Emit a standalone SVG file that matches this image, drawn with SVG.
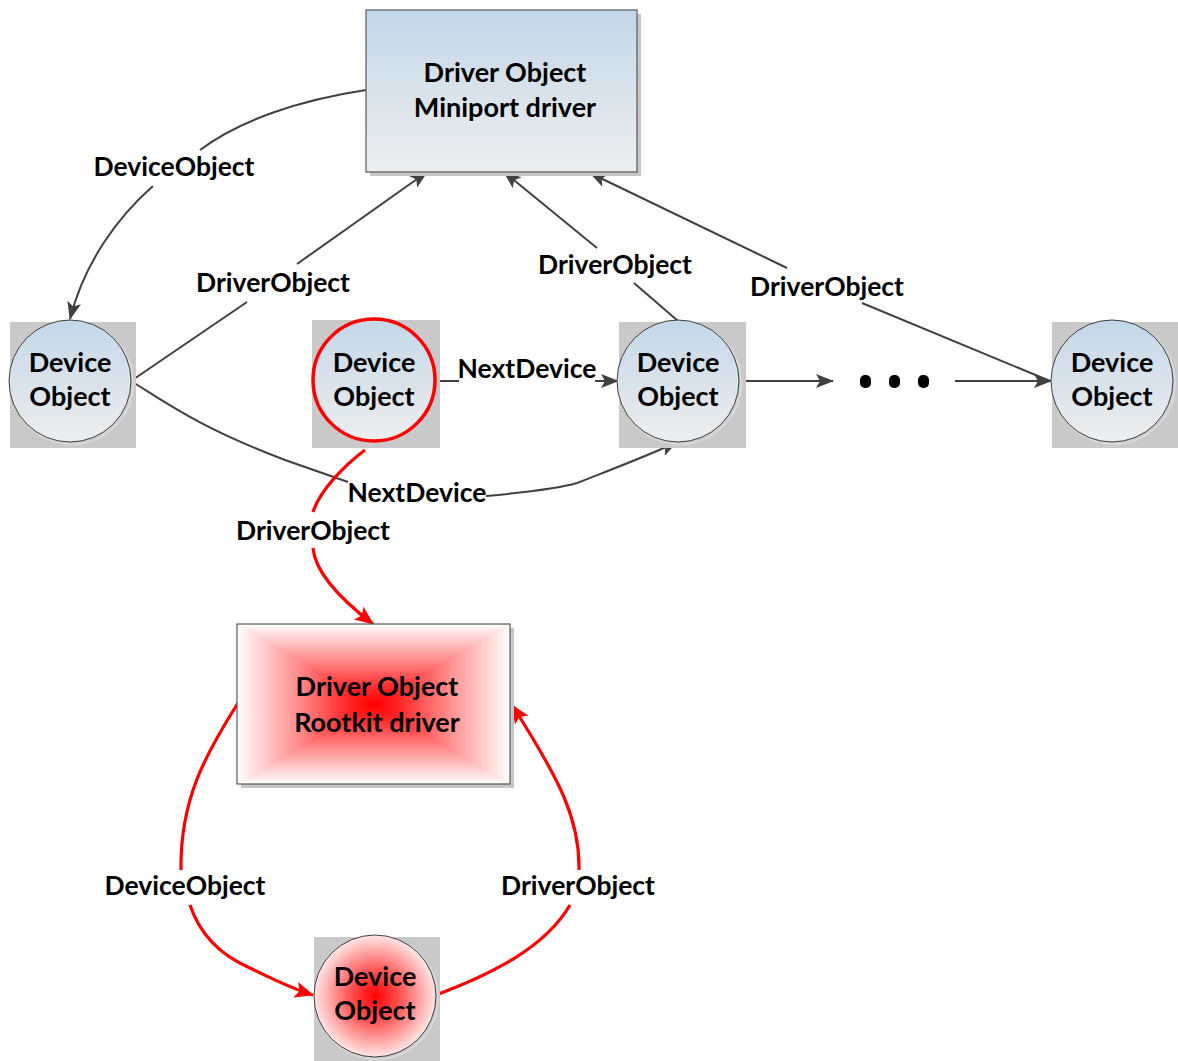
<svg xmlns="http://www.w3.org/2000/svg" width="1178" height="1061" viewBox="0 0 1178 1061">
  <defs>
    <linearGradient id="blueFill" x1="0" y1="0" x2="0" y2="1">
      <stop offset="0" stop-color="#c3d7e8"/>
      <stop offset="1" stop-color="#eeeeee"/>
    </linearGradient>
    <!-- rectangular "path" gradient built from four edge-to-centre wedges -->
    <linearGradient id="redTop" gradientUnits="userSpaceOnUse" x1="0" y1="624" x2="0" y2="704">
      <stop offset="0" stop-color="#ffffff"/>
      <stop offset="0.45" stop-color="#ff8c8c"/>
      <stop offset="0.8" stop-color="#ff2a2a"/>
      <stop offset="1" stop-color="#ff0000"/>
    </linearGradient>
    <linearGradient id="redBottom" gradientUnits="userSpaceOnUse" x1="0" y1="784" x2="0" y2="704">
      <stop offset="0" stop-color="#ffffff"/>
      <stop offset="0.45" stop-color="#ff8c8c"/>
      <stop offset="0.8" stop-color="#ff2a2a"/>
      <stop offset="1" stop-color="#ff0000"/>
    </linearGradient>
    <linearGradient id="redLeft" gradientUnits="userSpaceOnUse" x1="237" y1="0" x2="373.5" y2="0">
      <stop offset="0" stop-color="#ffffff"/>
      <stop offset="0.45" stop-color="#ff8c8c"/>
      <stop offset="0.8" stop-color="#ff2a2a"/>
      <stop offset="1" stop-color="#ff0000"/>
    </linearGradient>
    <linearGradient id="redRight" gradientUnits="userSpaceOnUse" x1="510" y1="0" x2="373.5" y2="0">
      <stop offset="0" stop-color="#ffffff"/>
      <stop offset="0.45" stop-color="#ff8c8c"/>
      <stop offset="0.8" stop-color="#ff2a2a"/>
      <stop offset="1" stop-color="#ff0000"/>
    </linearGradient>
    <radialGradient id="redBall" cx="0.5" cy="0.5" r="0.55">
      <stop offset="0" stop-color="#ff0000"/>
      <stop offset="0.4" stop-color="#ff5a5a"/>
      <stop offset="1" stop-color="#ffffff"/>
    </radialGradient>
    <clipPath id="rootkitClip">
      <rect x="237" y="624" width="273" height="160"/>
    </clipPath>
    <marker id="arrowGray" markerUnits="userSpaceOnUse" markerWidth="20" markerHeight="16" refX="17" refY="7" orient="auto">
      <path d="M0,0 L18,7 L0,14 L4,7 Z" fill="#404040"/>
    </marker>
    <marker id="arrowRed" markerUnits="userSpaceOnUse" markerWidth="22" markerHeight="18" refX="18" refY="8" orient="auto">
      <path d="M0,0 L19,8 L0,16 L4,8 Z" fill="#ff0000"/>
    </marker>
  </defs>
  <style>
    .bg { fill: #ffffff; }
    .tile { fill: #c9c9c9; }
    .shadow { fill: #c6c6c6; }
    .box { stroke: #595959; stroke-width: 1.2; }
    .disc { stroke: #404040; stroke-width: 1; }
    .discShadow { fill: none; stroke: #d8d8d8; stroke-width: 2; }
    .wedge { stroke-width: 1.5; stroke-linejoin: round; }
    .title { font-family: Lato, "Liberation Sans", sans-serif; font-weight: 700; font-size: 27px; fill: #000000; text-anchor: middle; }
    .label { font-family: Lato, "Liberation Sans", sans-serif; font-weight: 700; font-size: 26.5px; fill: #000000; text-anchor: middle; }
    .gray { fill: none; stroke: #404040; stroke-width: 2; }
    .red { fill: none; stroke: #ff0000; stroke-width: 3.2; }
    .dot { fill: #000000; }
  </style>

  <rect class="bg" x="0" y="0" width="1178" height="1061"/>

  <!-- connectors -->
  <g id="connectors">
    <!-- DeviceObject: miniport driver -> first device -->
    <path class="gray" d="M366,90 C300,100 240,120 200,150"/>
    <path class="gray" d="M153,186 C120,215 85,260 70,319" marker-end="url(#arrowGray)"/>
    <!-- DriverObject: first device -> miniport driver -->
    <path class="gray" d="M131,381 L247,302"/>
    <path class="gray" d="M297,264 L427,172" marker-end="url(#arrowGray)"/>
    <!-- DriverObject: third device -> miniport driver -->
    <path class="gray" d="M678,321 L634,283"/>
    <path class="gray" d="M597,248 L504,172" marker-end="url(#arrowGray)"/>
    <!-- DriverObject: last device -> miniport driver -->
    <path class="gray" d="M1050,381 L862,303"/>
    <path class="gray" d="M787,268 L590,173" marker-end="url(#arrowGray)"/>
    <!-- NextDevice: hooked device -> third device -->
    <path class="gray" d="M436,381 L459,381"/>
    <path class="gray" d="M595,381 L618,381" marker-end="url(#arrowGray)"/>
    <!-- NextDevice: first device -> third device -->
    <path class="gray" d="M131,381 C165,402 200,428 285,460 L348,482"/>
    <path class="gray" d="M486,496 C530,492 560,488 577,483 C610,470 650,455 677,442" marker-end="url(#arrowGray)"/>
    <!-- chain continuation -->
    <path class="gray" d="M739,381 L833,381" marker-end="url(#arrowGray)"/>
    <path class="gray" d="M955,381 L1051,381" marker-end="url(#arrowGray)"/>
    <!-- DriverObject: hooked device -> rootkit driver -->
    <path class="red" d="M365,450 C345,465 320,490 313,512"/>
    <path class="red" d="M313,548 C315,570 335,595 373,624" marker-end="url(#arrowRed)"/>
    <!-- DeviceObject: rootkit driver -> rootkit device -->
    <path class="red" d="M238,703 C205,755 180,800 181,870"/>
    <path class="red" d="M190,905 C200,935 220,955 250,968 C275,980 290,988 313,995" marker-end="url(#arrowRed)"/>
    <!-- DriverObject: rootkit device -> rootkit driver -->
    <path class="red" d="M436,995 C490,975 545,948 570,905"/>
    <path class="red" d="M579,870 C580,820 560,780 512,705" marker-end="url(#arrowRed)"/>
  </g>

  <!-- connector labels -->
  <g id="labels">
    <text class="label" x="174" y="176">DeviceObject</text>
    <text class="label" x="273" y="292">DriverObject</text>
    <text class="label" x="615" y="274">DriverObject</text>
    <text class="label" x="827" y="296">DriverObject</text>
    <text class="label" x="527" y="378">NextDevice</text>
    <text class="label" x="417" y="502">NextDevice</text>
    <text class="label" x="313" y="540">DriverObject</text>
    <text class="label" x="185" y="895">DeviceObject</text>
    <text class="label" x="578" y="895">DriverObject</text>
  </g>

  <!-- ellipsis between devices -->
  <g id="ellipsis">
    <rect class="dot" x="860" y="375" width="11" height="13" rx="5"/>
    <rect class="dot" x="889" y="375" width="11" height="13" rx="5"/>
    <rect class="dot" x="918" y="375" width="11" height="13" rx="5"/>
  </g>

  <!-- miniport driver object -->
  <g id="miniport-driver">
    <rect class="shadow" x="370" y="14" width="271" height="162"/>
    <rect class="box" x="366" y="10" width="271" height="162" fill="url(#blueFill)"/>
    <text class="title" x="505" y="82">Driver Object</text>
    <text class="title" x="505" y="117">Miniport driver</text>
  </g>

  <!-- device objects -->
  <g id="device-1">
    <rect class="tile" x="10" y="322" width="126" height="126"/>
    <circle class="discShadow" cx="72" cy="383" r="61"/>
    <circle class="disc" cx="70" cy="381" r="61" fill="url(#blueFill)"/>
    <text class="title" x="70" y="372">Device</text>
    <text class="title" x="70" y="406">Object</text>
  </g>

  <g id="device-hooked">
    <rect class="tile" x="312" y="320" width="128" height="128"/>
    <circle cx="374" cy="380" r="61" fill="url(#blueFill)" stroke="#ff0000" stroke-width="3.5"/>
    <text class="title" x="374" y="372">Device</text>
    <text class="title" x="374" y="406">Object</text>
  </g>

  <g id="device-3">
    <rect class="tile" x="619" y="322" width="127" height="126"/>
    <circle class="discShadow" cx="680" cy="383" r="61"/>
    <circle class="disc" cx="678" cy="381" r="61" fill="url(#blueFill)"/>
    <text class="title" x="678" y="372">Device</text>
    <text class="title" x="678" y="406">Object</text>
  </g>

  <g id="device-last">
    <rect class="tile" x="1052" y="322" width="126" height="126"/>
    <circle class="discShadow" cx="1114" cy="383" r="61"/>
    <circle class="disc" cx="1112" cy="381" r="61" fill="url(#blueFill)"/>
    <text class="title" x="1112" y="372">Device</text>
    <text class="title" x="1112" y="406">Object</text>
  </g>

  <!-- rootkit driver object -->
  <g id="rootkit-driver">
    <rect class="shadow" x="241" y="628" width="273" height="160"/>
    <g clip-path="url(#rootkitClip)">
      <polygon class="wedge" points="237,624 510,624 373.5,704" fill="url(#redTop)" stroke="url(#redTop)"/>
      <polygon class="wedge" points="237,784 510,784 373.5,704" fill="url(#redBottom)" stroke="url(#redBottom)"/>
      <polygon class="wedge" points="237,624 237,784 373.5,704" fill="url(#redLeft)" stroke="url(#redLeft)"/>
      <polygon class="wedge" points="510,624 510,784 373.5,704" fill="url(#redRight)" stroke="url(#redRight)"/>
    </g>
    <rect class="box" x="237" y="624" width="273" height="160" fill="none"/>
    <text class="title" x="377" y="696">Driver Object</text>
    <text class="title" x="377" y="732">Rootkit driver</text>
  </g>

  <!-- rootkit device object -->
  <g id="rootkit-device">
    <rect class="tile" x="314" y="937" width="126" height="124"/>
    <circle class="discShadow" cx="377" cy="998" r="61"/>
    <circle class="disc" cx="375" cy="996" r="61" fill="url(#redBall)"/>
    <text class="title" x="375" y="986">Device</text>
    <text class="title" x="375" y="1020">Object</text>
  </g>
</svg>
